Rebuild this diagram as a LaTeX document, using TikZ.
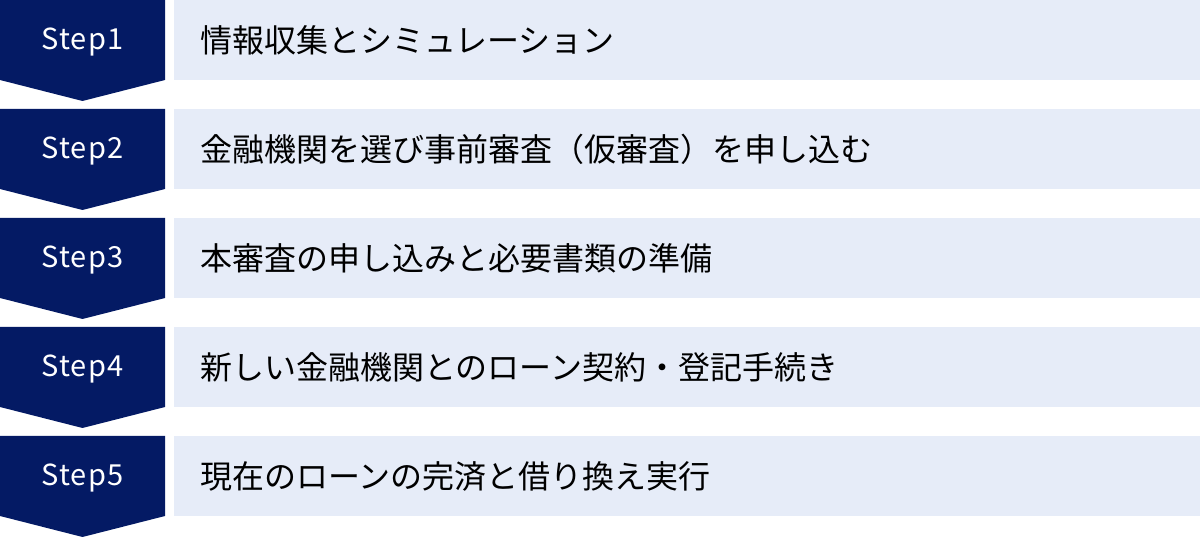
\documentclass[tikz,border=0pt]{standalone}
\usepackage{fontspec}
\setmainfont{Noto Sans CJK JP}
\newfontfamily\stepfont[LetterSpace=4]{Noto Sans CJK JP}
\definecolor{navy}{HTML}{041A64}
\definecolor{barbg}{HTML}{E6ECF8}
\begin{document}
\begin{tikzpicture}[x=1pt,y=1pt,
 chevron/.style={fill=navy},
 bar/.style={fill=barbg, draw=none, minimum width=1026pt, minimum height=80pt, anchor=north west, inner sep=0pt},
 steplabel/.style={text=white, inner sep=0pt, font=\stepfont\fontsize{29}{29}\selectfont},
 itemtext/.style={anchor=west, text=black, inner sep=0pt, font=\fontsize{32}{32}\selectfont}]
\useasboundingbox (0,0) rectangle (1200,538);
\foreach \i/\t in {1/情報収集とシミュレーション,2/金融機関を選び事前審査（仮審査）を申し込む,3/本審査の申し込みと必要書類の準備,4/新しい金融機関とのローン契約・登記手続き,5/現在のローンの完済と借り換え実行}{
 \pgfmathsetmacro\ytop{538-109*(\i-1)}
 \fill[chevron] (0,\ytop) -- (165,\ytop) -- (165,\ytop-80) -- (82.5,\ytop-101) -- (0,\ytop-80) -- cycle;
 \node[bar] (bar\i) at (174,\ytop) {};
 \node[steplabel] (step\i) at (82.5,\ytop-42) {Step\i};
 \node[itemtext] (text\i) at (200,\ytop-40) {\t};
}
\end{tikzpicture}
\end{document}
